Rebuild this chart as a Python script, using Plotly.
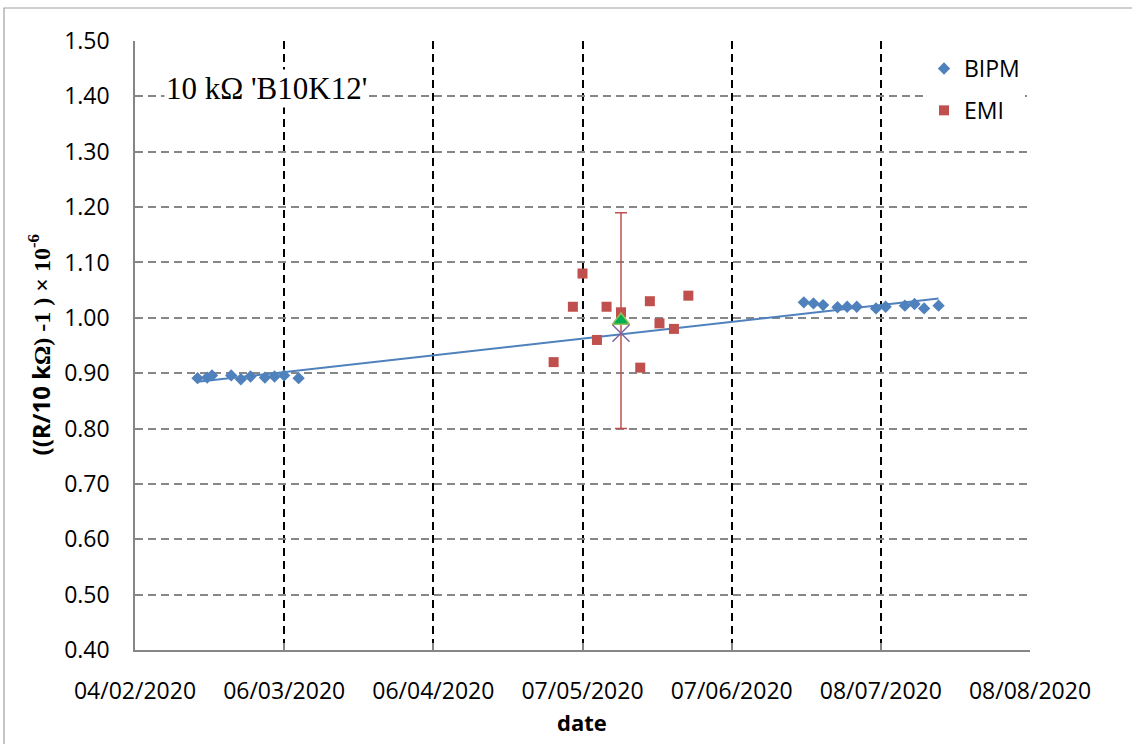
import plotly.graph_objects as go
import numpy as np
import pandas as pd

# ---- data ----
bipm_dates = ["2020-02-17", "2020-02-19", "2020-02-20", "2020-02-24", "2020-02-26",
              "2020-02-28", "2020-03-02", "2020-03-04", "2020-03-06", "2020-03-09",
              "2020-06-22", "2020-06-24", "2020-06-26", "2020-06-29", "2020-07-01",
              "2020-07-03", "2020-07-07", "2020-07-09", "2020-07-13", "2020-07-15",
              "2020-07-17", "2020-07-20"]
bipm_values = [0.891, 0.892, 0.896, 0.896, 0.889, 0.894, 0.892, 0.894, 0.896, 0.891,
               1.028, 1.026, 1.023, 1.019, 1.020, 1.020, 1.017, 1.020, 1.022, 1.025,
               1.017, 1.022]

emi_dates = ["2020-05-01", "2020-05-05", "2020-05-07", "2020-05-10", "2020-05-12",
             "2020-05-15", "2020-05-19", "2020-05-21", "2020-05-23", "2020-05-26",
             "2020-05-29"]
emi_values = [0.92, 1.02, 1.08, 0.96, 1.02, 1.01, 0.91, 1.03, 0.99, 0.98, 1.04]

emi_mean_date = ["2020-05-15"]
emi_mean_value = [0.995]
emi_mean_unc = [0.195]
bipm_at_mean_value = [0.972]

x_tick_dates = ["2020-02-04", "2020-03-06", "2020-04-06", "2020-05-07",
                "2020-06-07", "2020-07-08", "2020-08-08"]
x_tick_labels = ["04/02/2020", "06/03/2020", "06/04/2020", "07/05/2020",
                 "07/06/2020", "08/07/2020", "08/08/2020"]
y_tick_vals = [0.40, 0.50, 0.60, 0.70, 0.80, 0.90, 1.00, 1.10, 1.20, 1.30, 1.40, 1.50]

# ---- linear trend of BIPM data (Excel-style trendline) ----
bd = pd.to_datetime(bipm_dates)
t0 = bd.min()
days = np.array((bd - t0).days, dtype=float)
slope, intercept = np.polyfit(days, np.array(bipm_values), 1)
fit_x = [bd.min(), bd.max()]
fit_y = [intercept, intercept + slope * days.max()]

BLUE = "#4F81BD"
RED = "#C0504D"
SANS = "Open Sans"
SERIF = "Liberation Serif"

fig = go.Figure()

fig.add_trace(go.Scatter(
    x=bipm_dates, y=bipm_values, mode="markers", name="BIPM",
    legendgroup="a",
    marker=dict(symbol="diamond", size=9.5, color=BLUE, line=dict(width=0))))

fig.add_trace(go.Scatter(
    x=fit_x, y=fit_y, mode="lines", showlegend=False,
    line=dict(color=BLUE, width=2), hoverinfo="skip"))

fig.add_trace(go.Scatter(
    x=emi_dates, y=emi_values, mode="markers", name="EMI",
    legendgroup="b",
    marker=dict(symbol="square", size=10, color=RED, line=dict(width=0))))

fig.add_trace(go.Scatter(
    x=emi_mean_date, y=emi_mean_value, mode="markers", showlegend=False,
    error_y=dict(type="data", array=emi_mean_unc, visible=True,
                 color=RED, thickness=1.5, width=6),
    marker=dict(symbol="triangle-up", size=15, color="#00B050",
                line=dict(color="#9BBB59", width=1.5))))

fig.add_trace(go.Scatter(
    x=emi_mean_date, y=bipm_at_mean_value, mode="markers", showlegend=False,
    marker=dict(symbol="x-thin", size=17, color="#8064A2",
                line=dict(color="#8064A2", width=1.5))))

# plot area in pixels: x 135..1030, y 41..650
L, R, T, B = 135, 1030, 41, 650
W, H = 1132, 744


def px(x):
    return (x - L) / (R - L)


def py(y):
    return (B - y) / (B - T)


fig.update_layout(
    width=W, height=H,
    margin=dict(l=L, r=W - R, t=T, b=H - B, pad=0),
    paper_bgcolor="white", plot_bgcolor="white",
    font=dict(family=SANS, size=23, color="black"),
    showlegend=True,
    legend=dict(x=px(924), y=py(47), xanchor="left", yanchor="top",
                bgcolor="white", borderwidth=0, tracegroupgap=9,
                traceorder="grouped", font=dict(family=SANS, size=23)),
    xaxis=dict(
        type="date",
        range=[x_tick_dates[0], x_tick_dates[-1]],
        tickmode="array", tickvals=x_tick_dates, ticktext=x_tick_labels,
        showgrid=True, gridcolor="black", gridwidth=1.5, griddash="8px,5px",
        showline=True, linecolor="#868686", linewidth=1.5, mirror=False,
        ticks="inside", ticklen=7, tickwidth=1.5, tickcolor="#868686",
        ticklabelstandoff=20,
        tickfont=dict(family=SANS, size=23), zeroline=False,
    ),
    yaxis=dict(
        range=[0.40, 1.50],
        tickmode="array", tickvals=y_tick_vals,
        ticktext=[f"{v:.2f}" for v in y_tick_vals],
        showgrid=True, gridcolor="#878787", gridwidth=1.5, griddash="8px,5px",
        showline=True, linecolor="#868686", linewidth=1.5, mirror=False,
        ticks="inside", ticklen=7, tickwidth=1.5, tickcolor="#868686",
        ticklabelstandoff=19,
        tickfont=dict(family=SANS, size=23), zeroline=False,
    ),
)

ytitle = ("<b>((R/10 k<span style=\"font-family:'Liberation Serif'\">Ω) -1 ) × 10"
          "<sup>-6</sup></span></b>")

fig.update_layout(annotations=[
    dict(text=ytitle, xref="paper", yref="paper", x=px(40), y=0.5,
         xanchor="center", yanchor="middle", textangle=-90, showarrow=False,
         font=dict(family=SANS, size=24, color="black")),
    dict(text="<b>date</b>", xref="paper", yref="paper", x=px(582), y=py(722),
         xanchor="center", yanchor="middle", showarrow=False,
         font=dict(family=SANS, size=22, color="black")),
    dict(text="10 kΩ 'B10K12'", xref="paper", yref="paper", x=px(266), y=py(88),
         xanchor="center", yanchor="middle", showarrow=False, bgcolor="white",
         font=dict(family=SERIF, size=31, color="black")),
])

fig.add_shape(type="rect", xref="paper", yref="paper",
              x0=px(4), x1=px(1145), y0=py(760), y1=py(8),
              line=dict(color="#A0A0A0", width=1.2), fillcolor="rgba(0,0,0,0)",
              layer="above")

fig.write_html("out.html",
               config={"displayModeBar": False},
               post_script="document.body.style.margin='0px';"
                           "document.body.style.padding='0px';")
